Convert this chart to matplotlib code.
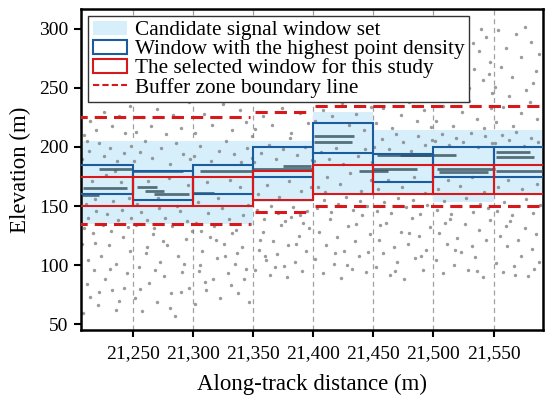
import matplotlib
matplotlib.use("Agg")
import matplotlib.pyplot as plt
from matplotlib.patches import Rectangle, Patch
from matplotlib.lines import Line2D
from matplotlib.ticker import StrMethodFormatter

plt.rcParams['font.family'] = ['Liberation Serif', 'DejaVu Serif']

# window edges along track (m)
win_edges = [21200, 21250, 21300, 21350, 21400, 21450, 21500, 21550, 21600]

# candidate signal window set (lower, upper) per window
cand_lo = [135, 135, 135, 153, 160, 160, 153, 160]
cand_hi = [205, 205, 205, 205, 230, 214, 214, 214]
# window with the highest point density
dens_lo = [160, 155, 160, 175, 195, 170, 175, 175]
dens_hi = [185, 180, 185, 200, 220, 194, 200, 200]
# selected window
sel_lo = [150, 150, 150, 155, 160, 160, 160, 160]
sel_hi = [175, 175, 175, 180, 185, 185, 185, 185]

# buffer zone boundary segments
buf_edges = [21200, 21350, 21400, 21600]
buf_lo = [135, 145, 150]
buf_hi = [225, 230, 235]

# dense signal photon bands: start, end, elevation
band_x0 = [21222, 21209, 21208, 21250, 21254, 21260, 21268, 21306, 21300,
           21350, 21375, 21401, 21401, 21438, 21453, 21450, 21472, 21503,
           21505, 21552, 21552, 21552]
band_x1 = [21250, 21245, 21222, 21292, 21270, 21276, 21297, 21349, 21318,
           21400, 21398, 21434, 21432, 21462, 21498, 21486, 21519, 21551,
           21545, 21580, 21584, 21591]
band_y = [181, 165, 159, 180, 166, 163, 160, 179.5, 161,
          181, 184, 209, 204, 180, 193.5, 181, 193, 181,
          178.5, 195.5, 191.5, 180]

# background noise photons, by window
noise_x_w1 = [21209, 21212, 21215, 21218, 21221, 21224, 21227, 21230, 21233, 21236, 21239, 21242, 21245, 21248,
              21210, 21213, 21217, 21220, 21225, 21229, 21232, 21238, 21241, 21246,
              21211, 21216, 21219, 21228, 21234, 21240, 21247,
              21208, 21214, 21222, 21226, 21231, 21237, 21243, 21249,
              21210, 21215, 21220, 21226, 21233, 21239, 21244, 21248,
              21222, 21236, 21213, 21243, 21231, 21219, 21208, 21249, 21235, 21212]
noise_y_w1 = [59, 84, 73, 96, 66, 108, 88, 117, 79, 101, 70, 124, 93, 112,
              131, 140, 127, 146, 134, 143, 129, 138, 147, 132,
              152, 171, 156, 176, 154, 170, 157,
              190, 197, 203, 192, 199, 188, 195, 201,
              210, 222, 214, 230, 218, 226, 212, 235,
              77, 62, 104, 81, 97, 119, 118, 140, 180, 205]

noise_x_w2 = [21252, 21255, 21258, 21261, 21264, 21267, 21270, 21273, 21276, 21279, 21282, 21285, 21288, 21291, 21294, 21297,
              21253, 21257, 21262, 21268, 21272, 21277, 21283, 21289, 21295, 21299,
              21254, 21263, 21271, 21280, 21287, 21296,
              21251, 21256, 21260, 21266, 21274, 21281, 21286, 21292, 21298,
              21253, 21259, 21265, 21270, 21278, 21284, 21290, 21297,
              21256, 21269, 21281, 21293, 21275, 21262, 21290]
noise_y_w2 = [72, 98, 61, 110, 85, 126, 69, 103, 91, 117, 76, 57, 108, 94, 122, 81,
              134, 145, 138, 131, 148, 140, 133, 146, 137, 129,
              152, 171, 157, 174, 150, 168,
              188, 196, 205, 191, 199, 186, 203, 194, 190,
              213, 225, 218, 232, 211, 227, 216, 238,
              80, 96, 64, 101, 120, 115, 77]

noise_x_w3 = [21302, 21305, 21308, 21311, 21314, 21317, 21320, 21323, 21326, 21329, 21332, 21335, 21338, 21341, 21344, 21347,
              21303, 21307, 21313, 21318, 21324, 21330, 21336, 21342, 21348,
              21304, 21312, 21321, 21331, 21339, 21346,
              21301, 21306, 21315, 21322, 21328, 21334, 21340, 21345, 21349,
              21302, 21309, 21316, 21325, 21333, 21339, 21344, 21349,
              21310, 21327, 21343, 21319, 21337, 21306, 21333]
noise_y_w3 = [67, 95, 112, 79, 124, 88, 106, 72, 118, 93, 83, 101, 76, 115, 97, 69,
              136, 129, 144, 133, 148, 139, 130, 142, 135,
              153, 170, 157, 172, 166, 151,
              192, 201, 188, 197, 205, 194, 187, 199, 191,
              212, 228, 219, 236, 214, 231, 221, 209,
              86, 108, 88, 121, 110, 100, 127]

noise_x_w4 = [21352, 21355, 21358, 21361, 21364, 21367, 21370, 21373, 21376, 21379, 21382, 21385, 21388, 21391, 21394, 21397,
              21353, 21359, 21365, 21371, 21377, 21383, 21389, 21395,
              21354, 21362, 21372, 21380, 21390, 21398,
              21351, 21357, 21363, 21369, 21375, 21381, 21387, 21393, 21399,
              21352, 21358, 21366, 21374, 21382, 21389, 21396,
              21356, 21368, 21386, 21378, 21360, 21392]
noise_y_w4 = [96, 113, 128, 104, 92, 120, 109, 134, 99, 117, 141, 103, 125, 95, 112, 131,
              147, 139, 150, 144, 137, 149, 142, 146,
              160, 168, 158, 171, 163, 166,
              187, 195, 202, 190, 198, 208, 193, 200, 189,
              215, 226, 219, 233, 212, 229, 220,
              121, 98, 118, 90, 108, 136]

noise_x_w5 = [21402, 21405, 21408, 21411, 21414, 21417, 21420, 21423, 21426, 21429, 21432, 21435, 21438, 21441, 21444, 21447,
              21403, 21409, 21415, 21421, 21427, 21433, 21439, 21445,
              21404, 21412, 21422, 21431, 21440, 21448,
              21401, 21407, 21413, 21419, 21425, 21437, 21443, 21449,
              21402, 21408, 21416, 21424, 21430, 21436, 21442, 21448,
              21418, 21436, 21410, 21428, 21446]
noise_y_w5 = [105, 128, 93, 117, 139, 101, 124, 89, 112, 133, 97, 120, 108, 142, 94, 126,
              148, 155, 145, 152, 158, 147, 154, 150,
              166, 175, 169, 178, 163, 172,
              188, 196, 190, 199, 186, 192, 198, 187,
              222, 231, 226, 237, 219, 228, 214, 234,
              110, 135, 162, 100, 111]

noise_x_w6 = [21452, 21455, 21458, 21461, 21464, 21467, 21470, 21473, 21476, 21479, 21482, 21485, 21488, 21491, 21494, 21497,
              21453, 21459, 21465, 21471, 21477, 21483, 21489, 21495,
              21454, 21462, 21474, 21484, 21493,
              21451, 21457, 21463, 21469, 21475, 21481, 21487, 21493, 21499,
              21452, 21458, 21466, 21473, 21480, 21486, 21492, 21498,
              21468, 21480, 21456, 21490]
noise_y_w6 = [98, 121, 110, 136, 92, 115, 103, 128, 88, 118, 140, 106, 125, 96, 113, 132,
              146, 153, 144, 157, 149, 155, 143, 151,
              164, 172, 166, 175, 161,
              200, 207, 198, 211, 204, 197, 209, 202, 206,
              220, 233, 216, 227, 238, 222, 231, 217,
              95, 127, 134, 108]

noise_x_w7 = [21502, 21505, 21508, 21511, 21514, 21517, 21520, 21523, 21526, 21529, 21532, 21535, 21538, 21541, 21544, 21547,
              21503, 21509, 21515, 21521, 21527, 21533, 21539, 21545,
              21504, 21512, 21522, 21532, 21542,
              21501, 21507, 21513, 21519, 21525, 21531, 21537, 21543, 21549,
              21502, 21508, 21516, 21524, 21530, 21536, 21542, 21548,
              21530, 21534, 21538, 21541, 21544, 21547, 21549, 21533, 21540, 21546,
              21518, 21536, 21510]
noise_y_w7 = [104, 127, 93, 118, 139, 100, 123, 111, 135, 96, 116, 107, 130, 90, 121, 138,
              147, 154, 143, 150, 157, 145, 152, 148,
              164, 172, 167, 175, 162,
              205, 211, 202, 208, 204, 212, 200, 209, 203,
              222, 235, 218, 230, 239, 224, 216, 233,
              250, 266, 281, 257, 293, 272, 246, 288, 300, 262,
              113, 95, 136]

noise_x_w8 = [21552, 21555, 21558, 21561, 21564, 21567, 21570, 21573, 21576, 21579, 21582, 21585, 21588,
              21553, 21559, 21565, 21571, 21577, 21583, 21589,
              21554, 21562, 21574, 21586,
              21551, 21557, 21563, 21569, 21575, 21581, 21587,
              21552, 21558, 21566, 21573, 21580, 21586,
              21551, 21556, 21560, 21565, 21569, 21573, 21577, 21581, 21585, 21588, 21554, 21563, 21576, 21583,
              21568, 21584, 21560]
noise_y_w8 = [102, 125, 94, 116, 137, 99, 121, 108, 131, 91, 114, 126, 103,
              146, 153, 142, 150, 156, 144, 151,
              166, 172, 164, 169,
              203, 210, 206, 213, 201, 208, 204,
              221, 234, 218, 229, 238, 224,
              251, 268, 284, 259, 296, 276, 248, 289, 264, 279, 299, 243, 302, 254,
              92, 97, 133]

noise_x = (noise_x_w1 + noise_x_w2 + noise_x_w3 + noise_x_w4 +
           noise_x_w5 + noise_x_w6 + noise_x_w7 + noise_x_w8)
noise_y = (noise_y_w1 + noise_y_w2 + noise_y_w3 + noise_y_w4 +
           noise_y_w5 + noise_y_w6 + noise_y_w7 + noise_y_w8)

x_ticks = [21250, 21300, 21350, 21400, 21450, 21500, 21550]
y_ticks = [50, 100, 150, 200, 250, 300]

light_blue = '#d6effa'
blue = '#1c5c9e'
red = '#d7191c'

fig = plt.figure(figsize=(5.5, 4.01), dpi=100)
ax = fig.add_axes([0.147, 0.177, 0.840, 0.801])

for i in range(len(win_edges) - 1):
    x0 = win_edges[i]
    w = win_edges[i + 1] - x0
    ax.add_patch(Rectangle((x0, cand_lo[i]), w, cand_hi[i] - cand_lo[i],
                           facecolor=light_blue, edgecolor='none', zorder=1))

ax.scatter(noise_x, noise_y, s=6, color='#7a7a7a', alpha=0.75,
           linewidths=0, zorder=2)
ax.hlines(band_y, band_x0, band_x1, color='#34505a', linewidth=2.0,
          alpha=0.8, zorder=3)

for i in range(len(win_edges) - 1):
    x0 = win_edges[i]
    w = win_edges[i + 1] - x0
    ax.add_patch(Rectangle((x0, dens_lo[i]), w, dens_hi[i] - dens_lo[i],
                           facecolor='none', edgecolor=blue, linewidth=1.5, zorder=4))
    ax.add_patch(Rectangle((x0, sel_lo[i]), w, sel_hi[i] - sel_lo[i],
                           facecolor='none', edgecolor=red, linewidth=1.5, zorder=5))

for i in range(len(buf_edges) - 1):
    ax.hlines([buf_lo[i], buf_hi[i]], buf_edges[i] + 2, buf_edges[i + 1] - 2,
              color=red, linewidth=2.2, linestyles=(0, (4, 2.3)), zorder=5)

ax.set_xlim(21207, 21591)
ax.set_ylim(45, 317)
ax.set_xticks(x_ticks)
ax.set_yticks(y_ticks)
ax.xaxis.set_major_formatter(StrMethodFormatter('{x:,.0f}'))
ax.grid(axis='x', color='#a0a0a0', linestyle=(0, (4, 3)), linewidth=0.9, zorder=0)
ax.set_axisbelow(True)
ax.tick_params(labelsize=14, length=5, width=1.5, direction='out', pad=4)
ax.tick_params(axis='x', pad=6)
for s in ax.spines.values():
    s.set_linewidth(1.8)

ax.set_xlabel('Along-track distance (m)', fontsize=16.5, labelpad=8)
ax.set_ylabel('Elevation (m)', fontsize=16.5, labelpad=6)

handles = [
    Patch(facecolor=light_blue, edgecolor='none'),
    Patch(facecolor='none', edgecolor=blue, linewidth=1.5),
    Patch(facecolor='none', edgecolor=red, linewidth=1.5),
    Line2D([0], [0], color=red, linewidth=1.5, linestyle=(0, (3, 1.5))),
]
labels = ['Candidate signal window set',
          'Window with the highest point density',
          'The selected window for this study',
          'Buffer zone boundary line']
leg = ax.legend(handles, labels, loc='upper left', fontsize=15.3,
                frameon=True, framealpha=1, edgecolor='#333333',
                borderaxespad=0.35, handlelength=1.6, handletextpad=0.4,
                labelspacing=-0.04, borderpad=0.2, fancybox=False)
leg.get_frame().set_linewidth(1.0)
leg.set_zorder(10)

fig.savefig('out.png', dpi=100)
